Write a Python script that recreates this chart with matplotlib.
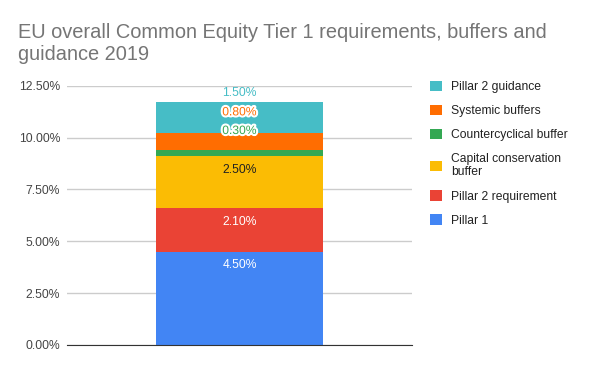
import matplotlib
matplotlib.use("Agg")
import matplotlib.pyplot as plt
import matplotlib.patheffects as pe
from matplotlib.ticker import FuncFormatter

plt.rcParams['font.family'] = ['Liberation Sans', 'DejaVu Sans']

categories = ['Pillar 1', 'Pillar 2 requirement', 'Capital conservation\nbuffer',
              'Countercyclical buffer', 'Systemic buffers', 'Pillar 2 guidance']
values = [4.5, 2.1, 2.5, 0.3, 0.8, 1.5]
colors = ['#4285f4', '#ea4335', '#fbbc04', '#34a853', '#ff6d01', '#46bdc6']
label_colors = ['white', 'white', '#212121', '#34a853', '#ff6d01', '#46bdc6']
# label offset from segment top, in pixels (negative = inside the bar)
label_offsets = [-13.5, -13.5, -13.5, 19, 21, 9]
label_halo = [False, False, False, True, True, False]
yticks = [0, 2.5, 5, 7.5, 10, 12.5]

fig = plt.figure(figsize=(6, 3.71), dpi=100)
ax = fig.add_axes([0.1117, 0.0701, 0.575, 0.699])

bottom = 0
for v, c, name in zip(values, colors, categories):
    ax.bar(0, v, width=0.485, bottom=bottom, color=c, label=name, zorder=3)
    bottom += v

bottom = 0
for v, lc, off, halo in zip(values, label_colors, label_offsets, label_halo):
    top = bottom + v
    t = ax.annotate('%.2f%%' % v, xy=(0, top), xytext=(0, off * 0.72),
                    textcoords='offset points', ha='center', va='center',
                    fontsize=8.7, color=lc, zorder=5)
    if halo:
        t.set_path_effects([pe.withStroke(linewidth=3, foreground='white')])
    bottom = top

ax.set_xlim(-0.5, 0.5)
ax.set_ylim(0, 12.5)
ax.set_yticks(yticks)
ax.yaxis.set_major_formatter(FuncFormatter(lambda y, p: '%.2f%%' % y))
ax.set_xticks([])
ax.tick_params(axis='y', length=0, labelsize=8.7, labelcolor='#444444', pad=5)
ax.grid(axis='y', color='#cccccc', linewidth=1, zorder=0)
for s in ['top', 'right', 'left']:
    ax.spines[s].set_visible(False)
ax.spines['bottom'].set_color('#333333')
ax.spines['bottom'].set_zorder(4)

handles, labels = ax.get_legend_handles_labels()
fig.legend(handles[::-1], labels[::-1], loc='upper left',
           bbox_to_anchor=(0.698, 0.812), frameon=False, fontsize=8.7,
           handlelength=1.0, handleheight=1.0, handletextpad=0.8,
           labelspacing=0.95, labelcolor='#222222')

fig.text(0.03, 0.884, 'EU overall Common Equity Tier 1 requirements, buffers and\nguidance 2019',
         fontsize=14.4, color='#757575', va='center', ha='left', linespacing=1.2)

fig.savefig('out.png', dpi=100)
